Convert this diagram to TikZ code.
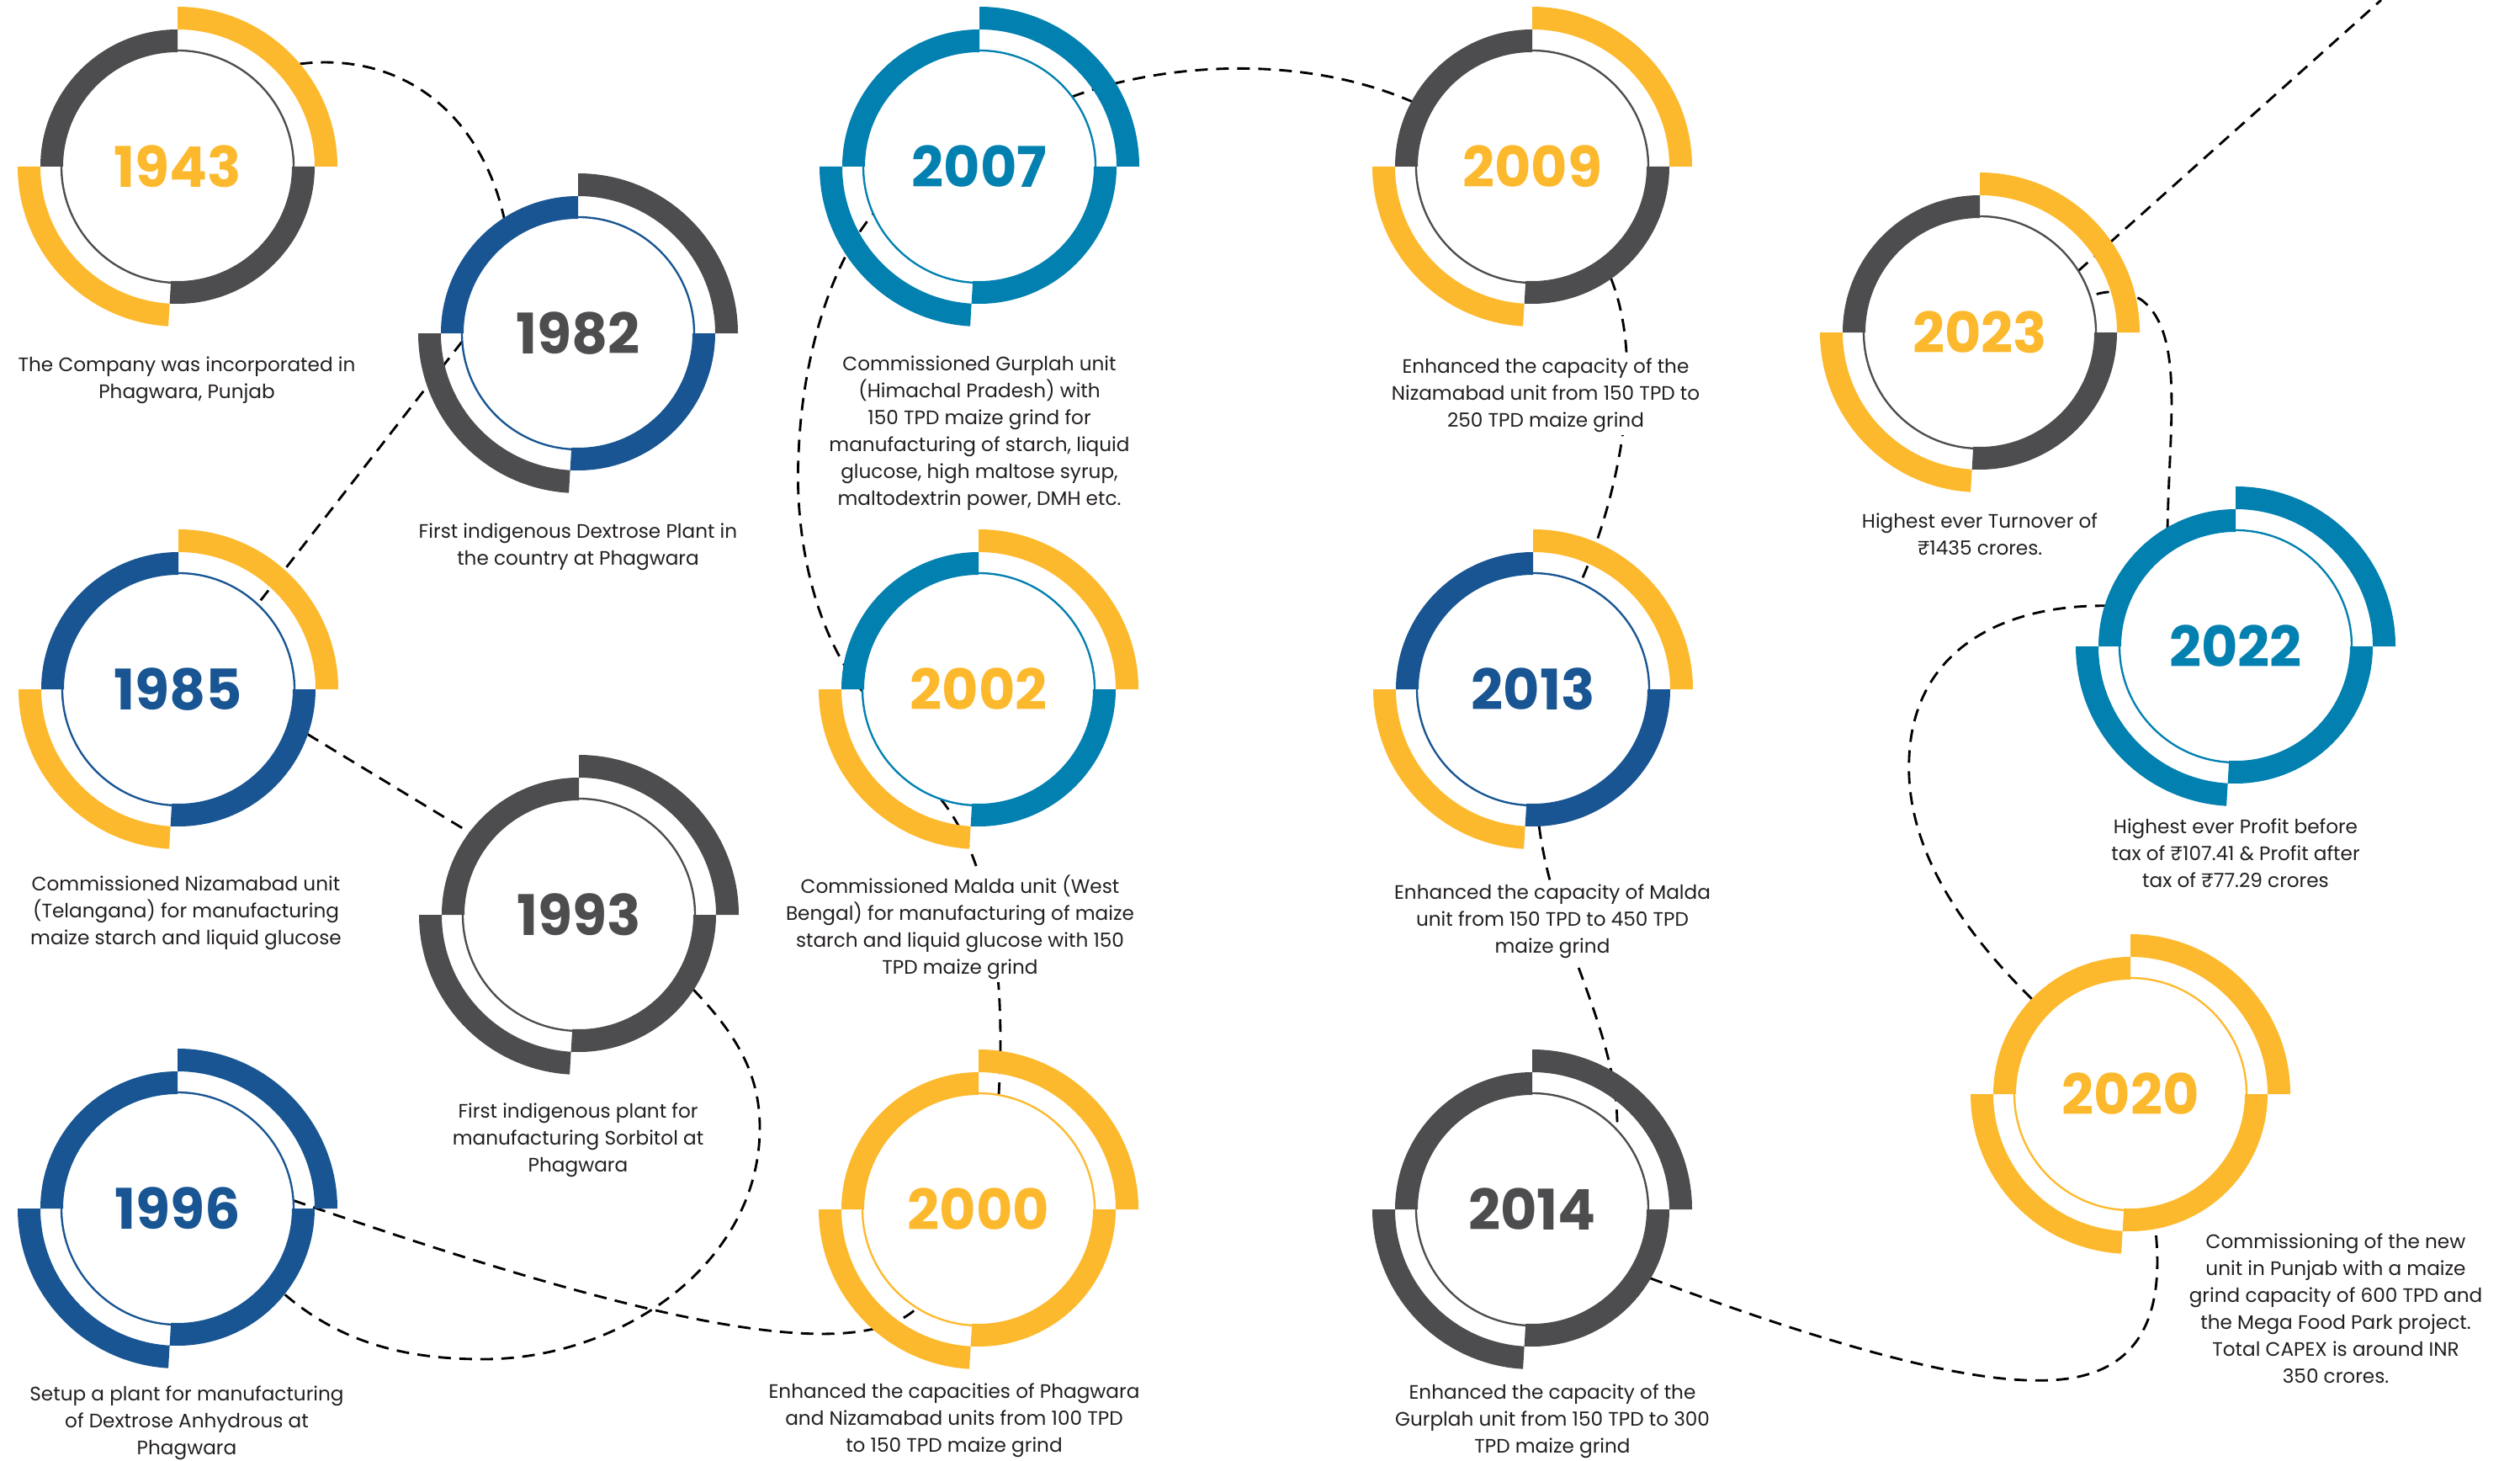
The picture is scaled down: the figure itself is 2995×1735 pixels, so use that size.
\documentclass[tikz,border=0pt]{standalone}
\usepackage{fontspec}
\setmainfont{Poppins}
\usetikzlibrary{calc}
\definecolor{cyel}{HTML}{FDB92D}
\definecolor{cgry}{HTML}{4D4D4F}
\definecolor{cnav}{HTML}{185592}
\definecolor{ctea}{HTML}{0280B0}
\definecolor{ctxt}{HTML}{231F20}
\newcommand\ringat[3]{%
  \draw[#2, line width=0.7pt] (#1.center) circle[radius=138];
  \fill[#2] ($(#1.center)+(90:136)$) arc[start angle=90,end angle=180,radius=136] -- ($(#1.center)+(180:163)$) arc[start angle=180,end angle=90,radius=163] -- cycle;
  \fill[#3] ($(#1.center)+(0:163)$) arc[start angle=0,end angle=90,radius=163] -- ($(#1.center)+(90:190)$) arc[start angle=90,end angle=0,radius=190] -- cycle;
  \fill[#2] ($(#1.center)+(-93.3:136)$) arc[start angle=-93.3,end angle=0,radius=136] -- ($(#1.center)+(0:163)$) arc[start angle=0,end angle=-93.3,radius=163] -- cycle;
  \fill[#3] ($(#1.center)+(180:163)$) arc[start angle=180,end angle=266.7,radius=163] -- ($(#1.center)+(266.7:190)$) arc[start angle=266.7,end angle=180,radius=190] -- cycle;
}
\tikzset{
  yr/.style={circle, minimum size=82.8pt, inner sep=0pt, outer sep=0pt, font=\fontsize{20}{20}\selectfont\bfseries},
  desc/.style={align=center, font=\fontsize{6.95}{9.6}\selectfont, text=ctxt, fill=white, inner sep=1pt},
  conn/.style={dash pattern=on 4.5pt off 3pt, line width=0.85pt, black},
}
\begin{document}
\begin{tikzpicture}[x=0.3pt,y=0.3pt]
\useasboundingbox (0,0) rectangle (2995,-1735);
% year nodes
\node[yr, text=cyel] (y1943) at (211,-198) {1943};
\node[yr, text=cgry] (y1982) at (687,-396) {1982};
\node[yr, text=cnav] (y1985) at (212,-819) {1985};
\node[yr, text=cgry] (y1993) at (688,-1087) {1993};
\node[yr, text=cnav] (y1996) at (211,-1436) {1996};
\node[yr, text=ctea] (y2007) at (1164,-198) {2007};
\node[yr, text=cyel] (y2002) at (1163,-819) {2002};
\node[yr, text=cyel] (y2000) at (1163,-1437) {2000};
\node[yr, text=cyel] (y2009) at (1821,-198) {2009};
\node[yr, text=cnav] (y2013) at (1822,-819) {2013};
\node[yr, text=cgry] (y2014) at (1821,-1437) {2014};
\node[yr, text=cyel] (y2023) at (2353,-395) {2023};
\node[yr, text=ctea] (y2022) at (2657,-768) {2022};
\node[yr, text=cyel] (y2020) at (2532,-1300) {2020};
\coordinate (exitpt) at (2830,0);
% connectors
\draw[conn] ($(y1943.center)+(40:190)$) .. controls (490,-60) and (585,-150) .. (y1982.127);
\draw[conn] (y1982.184) -- (y1985.47);
\draw[conn] (y1985.-17) -- (y1993.142);
\draw[conn] (y1993.-31) .. controls (870,-1220) and (903,-1270) .. (903,-1340) .. controls (903,-1500) and (740,-1615) .. (574,-1615) .. controls (470,-1615) and (390,-1590) .. (y1996.-38);
\draw[conn] (y1996.4) .. controls (650,-1530) and (1000,-1640) .. (y2000.238);
\draw[conn] (y2000.80) .. controls (1196,-1150) and (1175,-1020) .. (y2002.251);
\draw[conn] (y2002.181) .. controls (960,-740) and (945,-620) .. (949,-542) .. controls (953,-420) and (990,-310) .. (y2007.204);
\draw[conn] (y2007.37) .. controls (1380,-75) and (1560,-60) .. (y2009.151);
\draw[conn] (y2009.-53) .. controls (1965,-420) and (1920,-600) .. (y2013.66);
\draw[conn] (y2013.-88) .. controls (1836,-1100) and (1925,-1220) .. (y2014.43);
\draw[conn] (y2014.-32) .. controls (2150,-1590) and (2330,-1645) .. (2436,-1640) .. controls (2560,-1635) and (2575,-1540) .. (y2020.-79);
\draw[conn] (y2020.136) .. controls (2300,-1080) and (2265,-980) .. (2269,-900) .. controls (2275,-760) and (2400,-712) .. (y2022.160);
\draw[conn] (y2022.126) .. controls (2575,-520) and (2600,-400) .. (2546,-357) .. controls (2530,-346) and (2505,-343) .. (y2023.18);
\draw[conn] (y2023.32) -- (exitpt);
% descriptions
\node[desc] (t1943) at (222,-452) {The Company was incorporated in\\Phagwara, Punjab};
\node[desc] (t1982) at (687,-650) {First indigenous Dextrose Plant in\\the country at Phagwara};
\node[desc] (t1985) at (221,-1085) {Commissioned Nizamabad unit\\(Telangana) for manufacturing\\maize starch and liquid glucose};
\node[desc] (t1993) at (687,-1355) {First indigenous plant for\\manufacturing Sorbitol at\\Phagwara};
\node[desc] (t1996) at (222,-1691) {Setup a plant for manufacturing\\of Dextrose Anhydrous at\\Phagwara};
\node[desc] (t2007) at (1164,-515) {Commissioned Gurplah unit\\(Himachal Pradesh) with\\150 TPD maize grind for\\manufacturing of starch, liquid\\glucose, high maltose syrup,\\maltodextrin power, DMH etc.};
\node[desc] (t2002) at (1141,-1102) {Commissioned Malda unit (West\\Bengal) for manufacturing of maize\\starch and liquid glucose with 150\\TPD maize grind};
\node[desc] (t2000) at (1134,-1688) {Enhanced the capacities of Phagwara\\and Nizamabad units from 100 TPD\\to 150 TPD maize grind};
\node[desc] (t2009) at (1837,-470) {Enhanced the capacity of the\\Nizamabad unit from 150 TPD to\\250 TPD maize grind};
\node[desc] (t2013) at (1845,-1095) {Enhanced the capacity of Malda\\unit from 150 TPD to 450 TPD\\maize grind};
\node[desc] (t2014) at (1845,-1689) {Enhanced the capacity of the\\Gurplah unit from 150 TPD to 300\\TPD maize grind};
\node[desc] (t2023) at (2353,-635) {Highest ever Turnover of\\₹1435 crores.};
\node[desc] (t2022) at (2657,-1014) {Highest ever Profit before\\tax of ₹107.41 \& Profit after\\tax of ₹77.29 crores};
\node[desc] (t2020) at (2776,-1555) {Commissioning of the new\\unit in Punjab with a maize\\grind capacity of 600 TPD and\\the Mega Food Park project.\\Total CAPEX is around INR\\350 crores.};
% rings
\ringat{y1943}{cgry}{cyel}
\ringat{y1982}{cnav}{cgry}
\ringat{y1985}{cnav}{cyel}
\ringat{y1993}{cgry}{cgry}
\ringat{y1996}{cnav}{cnav}
\ringat{y2007}{ctea}{ctea}
\ringat{y2002}{ctea}{cyel}
\ringat{y2000}{cyel}{cyel}
\ringat{y2009}{cgry}{cyel}
\ringat{y2013}{cnav}{cyel}
\ringat{y2014}{cgry}{cgry}
\ringat{y2023}{cgry}{cyel}
\ringat{y2022}{ctea}{ctea}
\ringat{y2020}{cyel}{cyel}
\end{tikzpicture}
\end{document}
